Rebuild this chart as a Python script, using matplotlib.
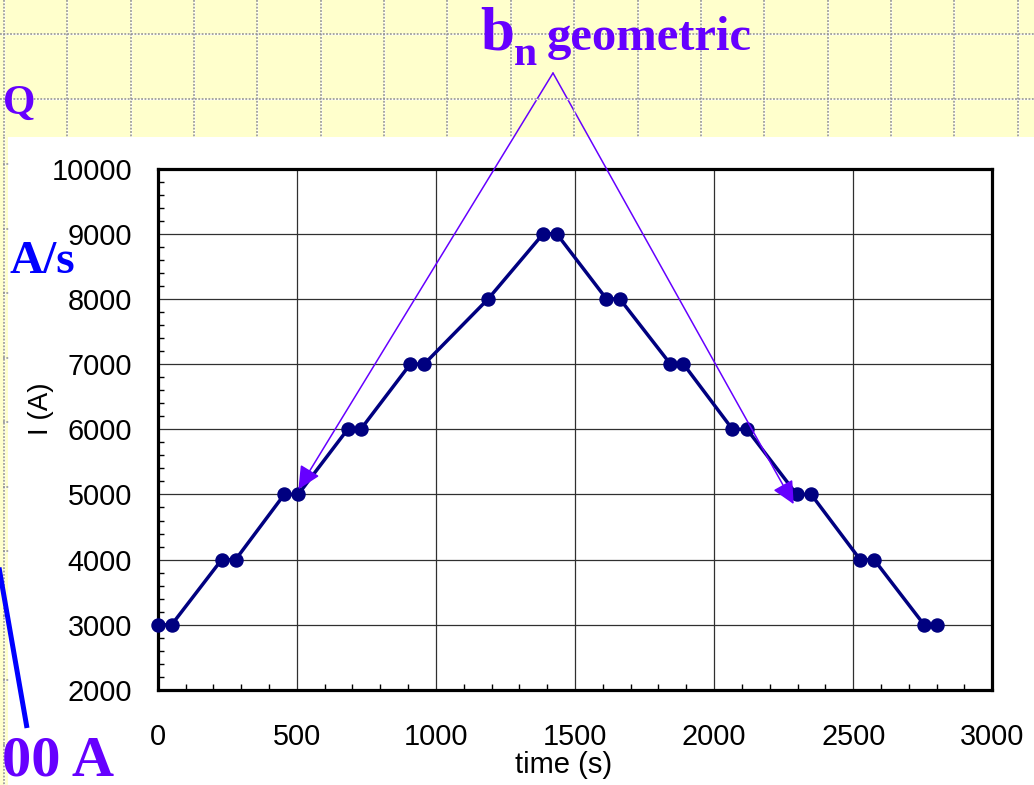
import matplotlib
matplotlib.use("Agg")
import matplotlib.pyplot as plt
from matplotlib.patches import Rectangle
from matplotlib.lines import Line2D
from matplotlib.ticker import MultipleLocator, FixedLocator

# Current plateaus of the ramp cycle
time_s = [0, 50, 230, 280, 455, 505, 683, 730, 908, 958, 1188, 1386, 1434,
          1613, 1661, 1843, 1890, 2066, 2118, 2297, 2349, 2525, 2575, 2755, 2800]
current_A = [3000, 3000, 4000, 4000, 5000, 5000, 6000, 6000, 7000, 7000, 8000,
             9000, 9000, 8000, 8000, 7000, 7000, 6000, 6000, 5000, 5000,
             4000, 4000, 3000, 3000]

x_ticks = [0, 500, 1000, 1500, 2000, 2500, 3000]
y_ticks = [2000, 3000, 4000, 5000, 6000, 7000, 8000, 9000, 10000]

# Points where the geometric harmonics were measured (time, current)
arrow_targets = [(506, 5080), (2286, 4851)]

W, H = 1034, 785
fig = plt.figure(figsize=(W / 100, H / 100), dpi=100)
fig.patch.set_facecolor("white")


def fx(px):
    return px / W


def fy(py):
    return 1 - py / H


PURPLE = "#6600FF"
YELLOW = "#FFFFCC"
DOT = "#8e8e8e"

# Slide background: yellow header band and a thin yellow strip on the left
fig.add_artist(Rectangle((0, fy(137)), 1, 137 / H, transform=fig.transFigure,
                         facecolor=YELLOW, edgecolor="none", zorder=0))
fig.add_artist(Rectangle((0, 0), 8 / W, fy(137), transform=fig.transFigure,
                         facecolor=YELLOW, edgecolor="none", zorder=0))


def dotted(xs, ys):
    fig.add_artist(Line2D(xs, ys, transform=fig.transFigure, color="white",
                          lw=1.0, zorder=0.5))
    fig.add_artist(Line2D(xs, ys, transform=fig.transFigure, color=DOT,
                          lw=1.1, ls=(0, (1.2, 1.0)), zorder=0.6))


for k in range(17):
    xp = 4 + 63.35 * k
    dotted([fx(xp), fx(xp)], [fy(0), fy(137)])
dotted([fx(4), fx(4)], [fy(137), fy(785)])
for yp in (34, 99):
    dotted([0, 1], [fy(yp), fy(yp)])
for yp in (164, 229, 293, 358, 422, 487, 551, 616, 680, 745):
    dotted([fx(3), fx(9)], [fy(yp), fy(yp)])

# Chart
ax = fig.add_axes([fx(157.7), fy(690), (992.3 - 157.7) / W, (690 - 168.5) / H])
ax.set_facecolor("white")
ax.plot(time_s, current_A, color="#000080", lw=2.5, marker="o", ms=9.4,
        mfc="#000080", mec="#000080", zorder=3, clip_on=False)

ax.set_xlim(0, 3000)
ax.set_ylim(2000, 10000)
ax.xaxis.set_major_locator(FixedLocator(x_ticks))
ax.yaxis.set_major_locator(FixedLocator(y_ticks))
ax.xaxis.set_minor_locator(MultipleLocator(100))
ax.yaxis.set_minor_locator(MultipleLocator(200))
ax.set_xticklabels([str(v) for v in x_ticks], family="Liberation Sans")
ax.set_yticklabels([str(v) for v in y_ticks], family="Liberation Sans")

ax.grid(True, which="major", color="#303030", lw=0.9)
ax.set_axisbelow(True)
ax.tick_params(which="both", direction="in", top=False, right=False)
ax.tick_params(which="major", length=0, labelsize=20.8, colors="black")
ax.tick_params(which="minor", length=4, width=1.0, color="black")
ax.tick_params(axis="y", which="major", pad=18.5)
ax.tick_params(axis="x", which="major", pad=24)
for sp in ax.spines.values():
    sp.set_linewidth(2.3)
    sp.set_color("black")

fig.text(fx(564), fy(773), "time (s)", ha="center", va="baseline",
         fontsize=21, family="Liberation Sans")
fig.text(fx(41), fy(409), "I (A)", ha="center", va="center", rotation=90,
         fontsize=20, family="Liberation Sans")

# Callout arrows from the label down to the measured points
for tx, ty in arrow_targets:
    ax.annotate("", xy=(tx, ty), xycoords="data",
                xytext=(553, H - 73), textcoords="figure pixels",
                arrowprops=dict(arrowstyle="-|>,head_length=1.4,head_width=0.68",
                                mutation_scale=10, color=PURPLE, lw=1.1,
                                shrinkA=0, shrinkB=0),
                annotation_clip=False, zorder=5)

serif = dict(family="Liberation Serif", fontweight="bold", va="baseline",
             ha="left")
fig.text(fx(480), fy(50), "b", color=PURPLE, fontsize=44, **serif)
fig.text(fx(514), fy(65), "n", color=PURPLE, fontsize=30, **serif)
fig.text(fx(547), fy(50), "geometric", color=PURPLE, fontsize=35, **serif)
fig.text(fx(3), fy(114), "Q", color=PURPLE, fontsize=30, **serif)
fig.text(fx(10), fy(273), "A/s", color="#0000FF", fontsize=34, **serif)
fig.text(fx(2), fy(775), "00 A", color=PURPLE, fontsize=42, **serif)

fig.add_artist(Line2D([fx(-3), fx(27)], [fy(556), fy(728)],
                      transform=fig.transFigure, color="#0000FF", lw=3.6,
                      solid_capstyle="butt", zorder=4))

fig.savefig("out.png", dpi=100)
